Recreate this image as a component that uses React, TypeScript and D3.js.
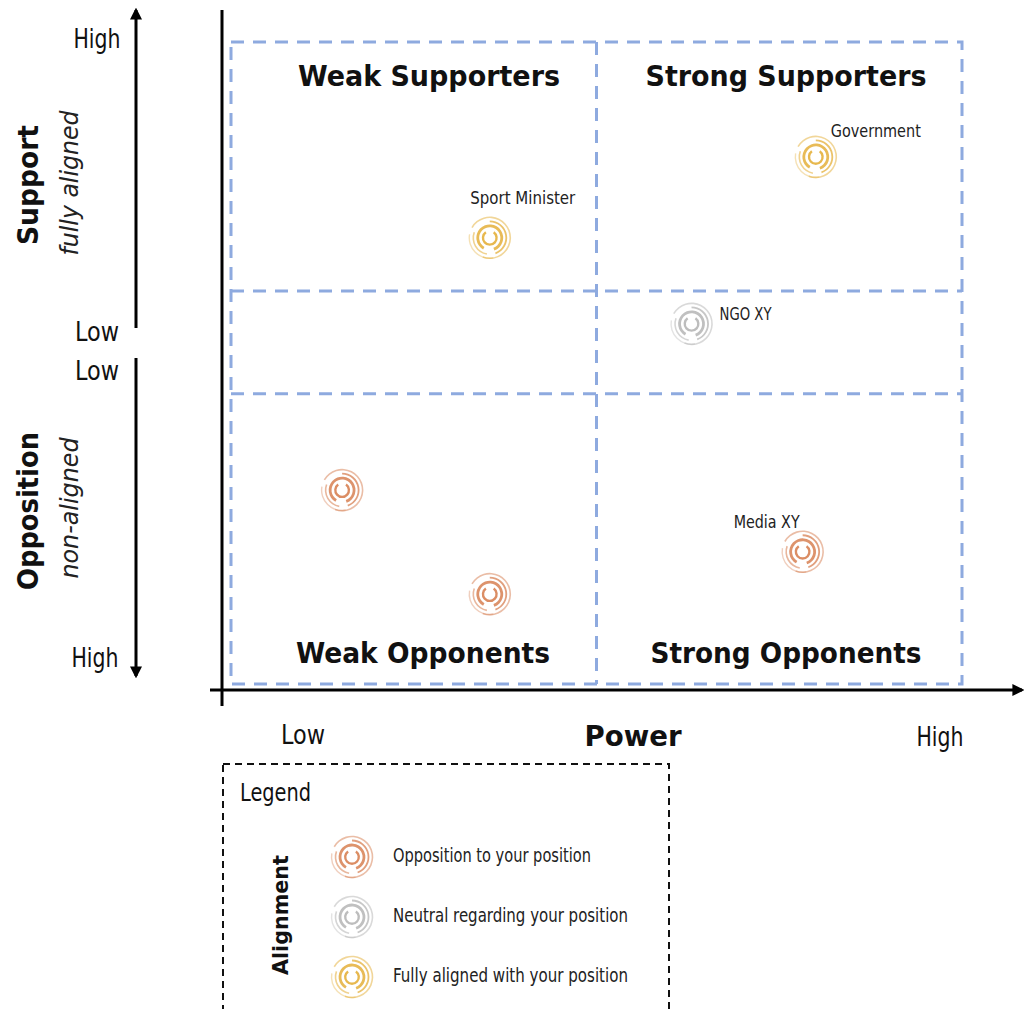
import React from "react";
import * as d3 from "d3";

const W = 1026;
const H = 1009;

// Stakeholders: power (0..1 along x), alignment position (0..1 along y, 1 = high support)
const names = ["Sport Minister", "Government", "NGO XY", "", "", "Media XY"];
const power = [0.354, 0.8, 0.63, 0.152, 0.354, 0.782];
const position = [0.695, 0.821, 0.561, 0.302, 0.14, 0.206];
const alignment = ["aligned", "aligned", "neutral", "opposed", "opposed", "opposed"];
const labelDx = [33, 60, 28, 0, 0, -36];
const labelDy = [-40, -26, -10, 0, 0, -30];
const labelAnchor = ["middle", "middle", "start", "middle", "middle", "middle"];
const labelWidth = [105, 90, 52, 0, 0, 66];

const quadrantTitles = ["Weak Supporters", "Strong Supporters", "Weak Opponents", "Strong Opponents"];
const quadrantWidths = [262, 281, 254, 271];
const gridY = [0, 0.452, 0.612, 1];

const legendKeys = ["opposed", "neutral", "aligned"];
const legendLabels = ["Opposition to your position", "Neutral regarding your position", "Fully aligned with your position"];
const legendWidths = [198, 235, 235];
const colors: Record<string, string> = { opposed: "#d9875c", neutral: "#b9b9b9", aligned: "#e6b445" };

const FONT = "'DejaVu Sans Condensed', 'Liberation Sans Narrow', 'DejaVu Sans', sans-serif";

const x = d3.scaleLinear().domain([0, 1]).range([231, 962]);
const y = d3.scaleLinear().domain([0, 1]).range([684, 42]);

function Spiral({ cx, cy, color }: { cx: number; cy: number; color: string }) {
  const arcs = [
    { r: 20.5, w: 1.6, s: 300, e: 560, o: 0.55 },
    { r: 20.5, w: 1.4, s: 170, e: 280, o: 0.4 },
    { r: 16.5, w: 1.8, s: 0, e: 160, o: 0.8 },
    { r: 16.5, w: 1.6, s: 190, e: 290, o: 0.6 },
    { r: 12, w: 2.8, s: 210, e: 520, o: 0.9 },
    { r: 6.8, w: 2.4, s: 35, e: 325, o: 0.95 },
  ];
  const gen = d3.arc();
  return (
    <g transform={`translate(${cx},${cy})`}>
      {arcs.map((a, i) => (
        <path
          key={i}
          d={
            gen({
              innerRadius: a.r - a.w / 2,
              outerRadius: a.r + a.w / 2,
              startAngle: (a.s * Math.PI) / 180,
              endAngle: (a.e * Math.PI) / 180,
            } as any) || ""
          }
          fill={color}
          opacity={a.o}
        />
      ))}
    </g>
  );
}

export default function App() {
  const gridColor = "#8eaadf";
  return (
    <svg width={W} height={H} style={{ position: "absolute", left: 0, top: 0, background: "#fff" }} fontFamily={FONT}>
      <defs>
        <marker id="ah" viewBox="0 0 10 10" refX="8" refY="5" markerWidth="4" markerHeight="4" orient="auto-start-reverse">
          <path d="M0,0 L10,5 L0,10 z" fill="#000" />
        </marker>
      </defs>
      {/* dashed grid */}
      <g stroke={gridColor} strokeWidth={3} strokeDasharray="13 9" fill="none">
        <rect x={x(0)} y={y(1)} width={x(1) - x(0)} height={y(0) - y(1)} />
        <line x1={x(0.5)} x2={x(0.5)} y1={y(1)} y2={y(0)} />
        <line x1={x(0)} x2={x(1)} y1={y(gridY[1])} y2={y(gridY[1])} />
        <line x1={x(0)} x2={x(1)} y1={y(gridY[2])} y2={y(gridY[2])} />
      </g>
      {/* axes */}
      <line x1={222} x2={222} y1={10} y2={706} stroke="#000" strokeWidth={3} />
      <line x1={210} x2={1022} y1={690} y2={690} stroke="#000" strokeWidth={3} markerEnd="url(#ah)" />
      {/* left arrows */}
      <line x1={136} x2={136} y1={328} y2={10} stroke="#000" strokeWidth={3} markerEnd="url(#ah)" />
      <line x1={136} x2={136} y1={358} y2={676} stroke="#000" strokeWidth={3} markerEnd="url(#ah)" />
      {/* left labels */}
      <g fontSize={27} fill="#111" textAnchor="middle">
        <text x={97} y={48} textLength={47} lengthAdjust="spacingAndGlyphs">High</text>
        <text x={97} y={341} textLength={44} lengthAdjust="spacingAndGlyphs">Low</text>
        <text x={97} y={380} textLength={44} lengthAdjust="spacingAndGlyphs">Low</text>
        <text x={95} y={667} textLength={47} lengthAdjust="spacingAndGlyphs">High</text>
      </g>
      <text transform="translate(38,185) rotate(-90)" textAnchor="middle" fontSize={29} fontWeight="bold" fill="#111" textLength={120} lengthAdjust="spacingAndGlyphs">Support</text>
      <text transform="translate(78,183) rotate(-90)" textAnchor="middle" fontSize={25} fontStyle="italic" fill="#222" textLength={145} lengthAdjust="spacingAndGlyphs">fully aligned</text>
      <text transform="translate(38,511) rotate(-90)" textAnchor="middle" fontSize={29} fontWeight="bold" fill="#111" textLength={158} lengthAdjust="spacingAndGlyphs">Opposition</text>
      <text transform="translate(78,508) rotate(-90)" textAnchor="middle" fontSize={25} fontStyle="italic" fill="#222" textLength={141} lengthAdjust="spacingAndGlyphs">non-aligned</text>
      {/* x labels */}
      <text x={303} y={744} fontSize={27} textAnchor="middle" fill="#111" textLength={44} lengthAdjust="spacingAndGlyphs">Low</text>
      <text x={633} y={746} fontSize={29} fontWeight="bold" textAnchor="middle" fill="#111" textLength={97} lengthAdjust="spacingAndGlyphs">Power</text>
      <text x={940} y={746} fontSize={27} textAnchor="middle" fill="#111" textLength={47} lengthAdjust="spacingAndGlyphs">High</text>
      {/* quadrant titles */}
      <g fontSize={28} fontWeight="bold" textAnchor="middle" fill="#111">
        <text x={429} y={86} textLength={quadrantWidths[0]} lengthAdjust="spacingAndGlyphs">{quadrantTitles[0]}</text>
        <text x={786} y={86} textLength={quadrantWidths[1]} lengthAdjust="spacingAndGlyphs">{quadrantTitles[1]}</text>
        <text x={423} y={663} textLength={quadrantWidths[2]} lengthAdjust="spacingAndGlyphs">{quadrantTitles[2]}</text>
        <text x={786} y={663} textLength={quadrantWidths[3]} lengthAdjust="spacingAndGlyphs">{quadrantTitles[3]}</text>
      </g>
      {/* points */}
      {names.map((n, i) => (
        <g key={i}>
          <Spiral cx={x(power[i])} cy={y(position[i])} color={colors[alignment[i]]} />
          {n && (
            <text x={x(power[i]) + labelDx[i]} y={y(position[i]) + labelDy[i] + 6} fontSize={18} textAnchor={labelAnchor[i]} fill="#222" textLength={labelWidth[i]} lengthAdjust="spacingAndGlyphs">{n}</text>
          )}
        </g>
      ))}
      {/* legend */}
      <rect x={223} y={764} width={446} height={260} fill="none" stroke="#111" strokeWidth={2} strokeDasharray="7 5" />
      <text x={240} y={801} fontSize={24} fill="#111" textLength={71} lengthAdjust="spacingAndGlyphs">Legend</text>
      <text transform="translate(288,915) rotate(-90)" textAnchor="middle" fontSize={22} fontWeight="bold" fill="#111" textLength={120} lengthAdjust="spacingAndGlyphs">Alignment</text>
      {legendKeys.map((k, i) => (
        <g key={k}>
          <Spiral cx={352} cy={857 + i * 60} color={colors[k]} />
          <text x={393} y={862 + i * 60} fontSize={19} fill="#222" textLength={legendWidths[i]} lengthAdjust="spacingAndGlyphs">{legendLabels[i]}</text>
        </g>
      ))}
    </svg>
  );
}
